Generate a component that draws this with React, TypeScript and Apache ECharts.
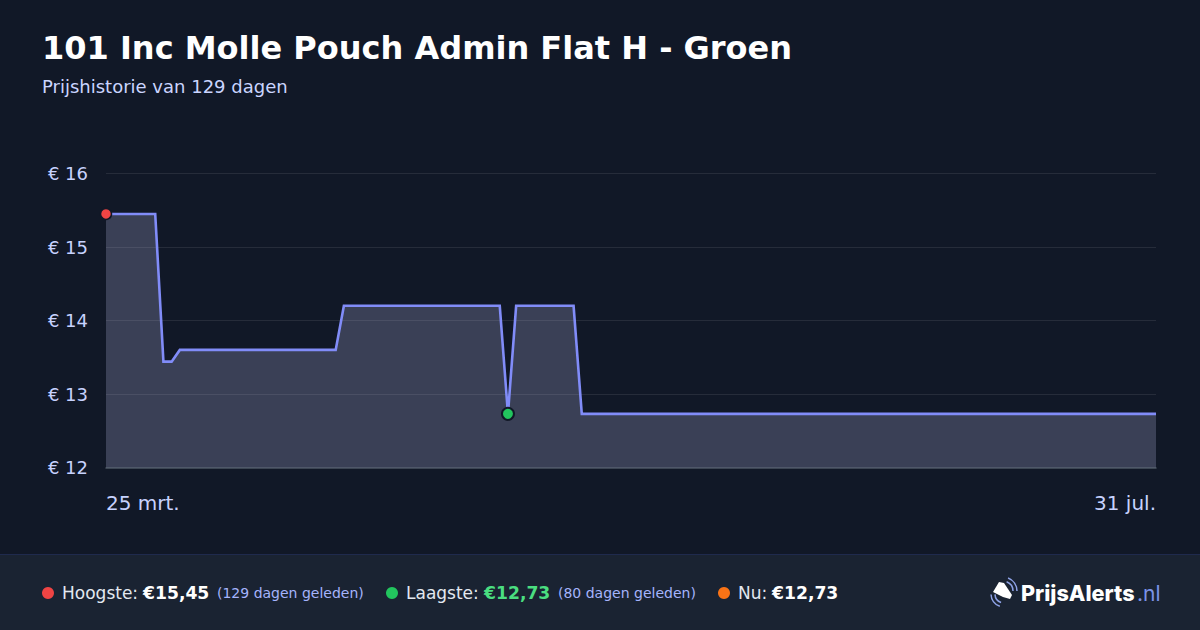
import React, { useEffect, useRef } from "react";
import * as echarts from "echarts";

const title = "101 Inc Molle Pouch Admin Flat H - Groen";
const subtitle = "Prijshistorie van 129 dagen";
const startLabel = "25 mrt.";
const endLabel = "31 jul.";
const yTicks = [12, 13, 14, 15, 16];

const prices = [
  15.45, 15.45, 15.45, 15.45, 15.45, 15.45, 15.45,
  13.44, 13.44,
  13.6, 13.6, 13.6, 13.6, 13.6, 13.6, 13.6, 13.6, 13.6, 13.6,
  13.6, 13.6, 13.6, 13.6, 13.6, 13.6, 13.6, 13.6, 13.6, 13.6,
  14.2, 14.2, 14.2, 14.2, 14.2, 14.2, 14.2, 14.2, 14.2, 14.2,
  14.2, 14.2, 14.2, 14.2, 14.2, 14.2, 14.2, 14.2, 14.2, 14.2,
  12.73,
  14.2, 14.2, 14.2, 14.2, 14.2, 14.2, 14.2, 14.2,
  12.73, 12.73, 12.73, 12.73, 12.73, 12.73, 12.73, 12.73, 12.73, 12.73,
  12.73, 12.73, 12.73, 12.73, 12.73, 12.73, 12.73, 12.73, 12.73, 12.73,
  12.73, 12.73, 12.73, 12.73, 12.73, 12.73, 12.73, 12.73, 12.73, 12.73,
  12.73, 12.73, 12.73, 12.73, 12.73, 12.73, 12.73, 12.73, 12.73, 12.73,
  12.73, 12.73, 12.73, 12.73, 12.73, 12.73, 12.73, 12.73, 12.73, 12.73,
  12.73, 12.73, 12.73, 12.73, 12.73, 12.73, 12.73, 12.73, 12.73, 12.73,
  12.73, 12.73, 12.73, 12.73, 12.73, 12.73, 12.73, 12.73, 12.73, 12.73,
  12.73,
];
const days = prices.map((_, i) => (i === 0 ? startLabel : i === prices.length - 1 ? endLabel : String(i)));
const highPoint = [0, 15.45];
const lowPoint = [49, 12.73];

const FONT = "'DejaVu Sans', sans-serif";
const BG = "#111827";
const tagPath = "M6 1 L11 2 L19 14 L17 18 L10 16 L0 11 Z";
echarts.graphic.registerShape("priceTag", echarts.graphic.extendPath(tagPath, {}));

const footerTexts = [
  { x: 62, text: "Hoogste:", size: 17, color: "#e2e8f0", weight: "normal" },
  { x: 143, text: "€15,45", size: 17.2, color: "#ffffff", weight: "bold" },
  { x: 217, text: "(129 dagen geleden)", size: 14, color: "#a5b4fc", weight: "normal" },
  { x: 406, text: "Laagste:", size: 17, color: "#e2e8f0", weight: "normal" },
  { x: 484, text: "€12,73", size: 17.2, color: "#4ade80", weight: "bold" },
  { x: 558, text: "(80 dagen geleden)", size: 14, color: "#a5b4fc", weight: "normal" },
  { x: 738, text: "Nu:", size: 17, color: "#e2e8f0", weight: "normal" },
  { x: 772, text: "€12,73", size: 17.2, color: "#ffffff", weight: "bold" },
];
const footerDots = [
  { x: 48, color: "#ef4444" },
  { x: 392, color: "#22c55e" },
  { x: 724, color: "#f97316" },
];

function txt(x: number, y: number, text: string, fontSize: number, fill: string, fontWeight = "normal", fontFamily = FONT, align = "left") {
  return { type: "text", x, y, silent: true, style: { text, fontSize, fill, fontWeight, fontFamily, textAlign: align, textVerticalAlign: "middle" } };
}

function arc(cx: number, cy: number, r: number, a0: number, a1: number) {
  return {
    type: "arc",
    shape: { cx, cy, r, startAngle: a0, endAngle: a1 },
    style: { stroke: "#8ea2e6", lineWidth: 1.5, fill: "none" },
    silent: true,
  };
}

export default function App() {
  const ref = useRef<HTMLDivElement>(null);
  useEffect(() => {
    document.body.style.margin = "0";
    document.body.style.background = BG;
    const chart = echarts.init(ref.current!, undefined, { renderer: "svg" });
    chart.setOption({
      animation: false,
      backgroundColor: BG,
      grid: { left: 106, right: 44, top: 173.5, height: 294, containLabel: false },
      xAxis: {
        type: "category",
        data: days,
        boundaryGap: false,
        axisLine: { lineStyle: { color: "#4b5563", width: 1.5 } },
        axisTick: { show: false },
        splitLine: { show: false },
        axisLabel: {
          interval: (i: number) => i === 0 || i === prices.length - 1,
          color: "#c7d2fe",
          fontSize: 20,
          fontFamily: FONT,
          margin: 25.5,
          alignMinLabel: "left",
          alignMaxLabel: "right",
          showMinLabel: true,
          showMaxLabel: true,
        },
      },
      yAxis: {
        type: "value",
        min: yTicks[0],
        max: yTicks[yTicks.length - 1],
        interval: 1,
        axisLine: { show: false },
        axisTick: { show: false },
        splitLine: { lineStyle: { color: "rgba(255,255,255,0.09)", width: 1 } },
        axisLabel: {
          formatter: (v: number) => `€ ${v}`,
          color: "#c7d2fe",
          fontSize: 18,
          fontFamily: FONT,
          margin: 18,
        },
      },
      series: [
        {
          type: "line",
          data: prices,
          symbol: "none",
          lineStyle: { color: "#818cf8", width: 2.6, join: "miter" },
          areaStyle: { color: "rgba(184,184,226,0.25)", opacity: 1 },
          z: 2,
        },
        {
          type: "scatter",
          data: [highPoint],
          symbolSize: 11,
          itemStyle: { color: "#ef4444", borderColor: BG, borderWidth: 1.5, opacity: 1 },
          z: 3,
        },
        {
          type: "scatter",
          data: [lowPoint],
          symbolSize: 12,
          itemStyle: { color: "#22c55e", borderColor: BG, borderWidth: 2, opacity: 1 },
          z: 3,
        },
      ],
      graphic: [
        { type: "rect", z: -1, silent: true, shape: { x: 0, y: 555, width: 1200, height: 75 }, style: { fill: "#1a2332" } },
        { type: "rect", z: -1, silent: true, shape: { x: 0, y: 554, width: 1200, height: 1 }, style: { fill: "#1f2a4d" } },
        txt(42, 48, title, 32, "#ffffff", "bold"),
        txt(42, 86, subtitle, 18, "#cbd5ff"),
        ...footerDots.map((d) => ({
          type: "circle",
          silent: true,
          shape: { cx: d.x, cy: 593, r: 6 },
          style: { fill: d.color },
        })),
        ...footerTexts.map((t) => txt(t.x, 593, t.text, t.size, t.color, t.weight)),
        { type: "priceTag", x: 993, y: 581, silent: true, style: { fill: "#ffffff" } },
        arc(1003, 591, 14, -1.2, 0.0),
        arc(1003, 591, 10, -1.2, 0.0),
        arc(1004, 594, 13, 1.9, 3.1),
        arc(1004, 594, 9, 1.9, 3.1),
        txt(1021, 593, "PrijsAlerts", 21.6, "#ffffff", "800", "Inter, sans-serif"),
        txt(1137, 593, ".nl", 21, "#7c93e8", "normal", "Inter, sans-serif"),
      ],
    });
    return () => chart.dispose();
  }, []);
  return <div ref={ref} style={{ width: 1200, height: 630 }} />;
}
